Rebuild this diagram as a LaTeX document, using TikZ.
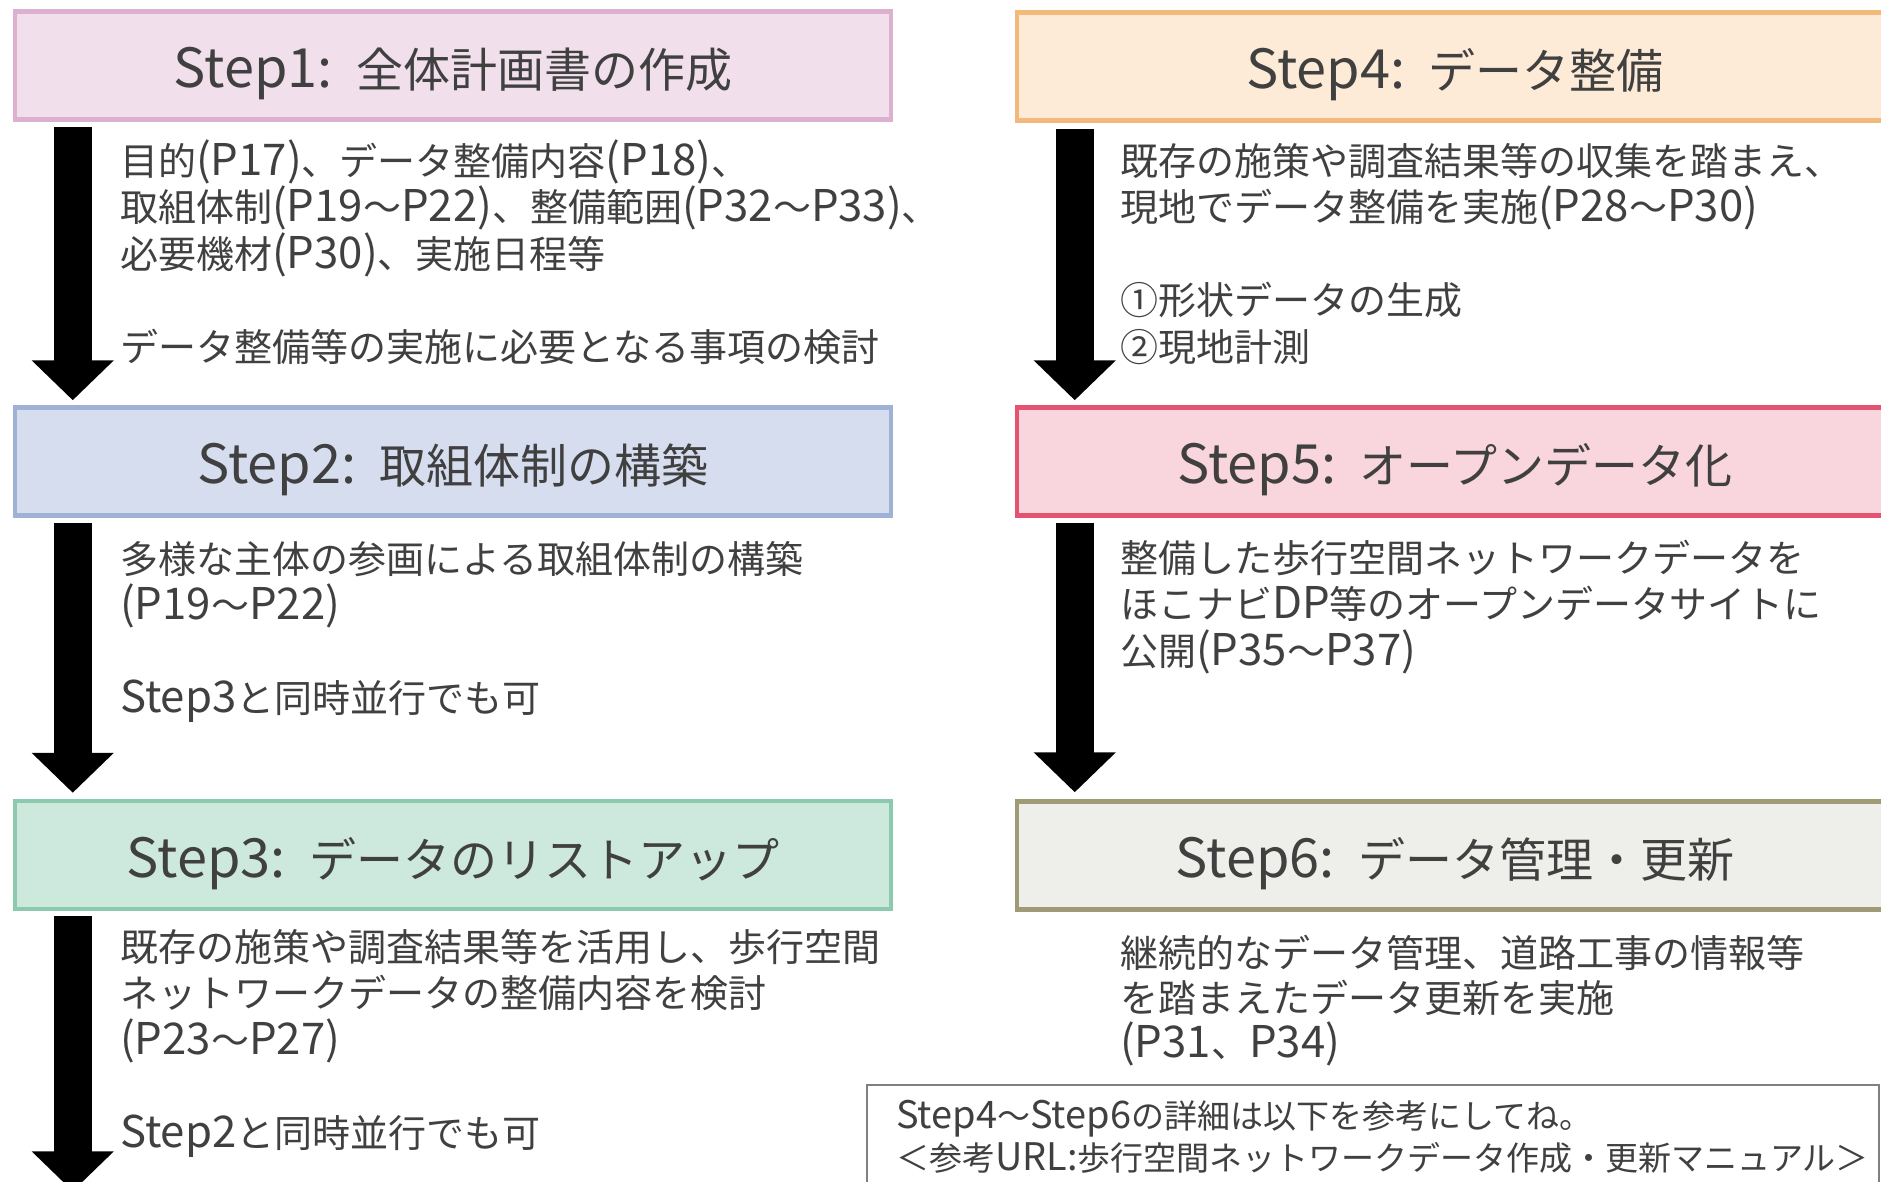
\documentclass[tikz,border=0pt]{standalone}
\usepackage{fontspec}
\setmainfont{Noto Sans CJK JP}
\newfontfamily\latf[Scale=1.15]{Noto Sans CJK JP}
\newcommand\latn[1]{{\latf #1}}
\usetikzlibrary{arrows.meta,calc}
\definecolor{txt}{HTML}{404040}
\definecolor{fA}{HTML}{F1E0EB}\definecolor{dA}{HTML}{DDB0D0}
\definecolor{fB}{HTML}{D6DDEE}\definecolor{dB}{HTML}{A0B1D6}
\definecolor{fC}{HTML}{CDE8DC}\definecolor{dC}{HTML}{8CCAB0}
\definecolor{fD}{HTML}{FDEBD7}\definecolor{dD}{HTML}{F3B97B}
\definecolor{fE}{HTML}{F9D5DD}\definecolor{dE}{HTML}{E45370}
\definecolor{fF}{HTML}{EEEFEA}\definecolor{dF}{HTML}{9F9B77}
\definecolor{notegray}{HTML}{808080}
\begin{document}
\begin{tikzpicture}[x=1pt,y=-1pt,
  box/.style={draw, line width=4.5pt, minimum width=876pt, minimum height=108pt, inner sep=0pt},
  ttl/.style={text=txt, font=\fontsize{47}{56}\selectfont, anchor=base, inner sep=0pt},
  body/.style={text=txt, font=\fontsize{38}{46.5}\selectfont, align=left, anchor=base west, inner sep=0pt},
  notetext/.style={text=txt, font=\fontsize{33}{42}\selectfont, align=left, anchor=base west, inner sep=0pt},
  bigarrow/.style={line width=38pt, -{Triangle[width=80pt,length=40pt]}}
]
\path[use as bounding box] (0,0) rectangle (1881,1182);
\clip (0,0) rectangle (1881,1182);
\fill[white] (0,0) rectangle (1881,1182);

% boxes
\node[box, draw=dA, fill=fA] (s1) at (453,65.5) {};
\node[box, draw=dB, fill=fB] (s2) at (453,461.5) {};
\node[box, draw=dC, fill=fC] (s3) at (453,855) {};
\node[box, draw=dD, fill=fD] (s4) at (1455,66.5) {};
\node[box, draw=dE, fill=fE] (s5) at (1455,461.5) {};
\node[box, draw=dF, fill=fF] (s6) at (1455,855.5) {};

% titles
\node[ttl] (t1) at ([yshift=-22pt]s1.center) {\latn{Step1:}\hspace{.5em}全体計画書の作成};
\node[ttl] (t2) at ([yshift=-22pt]s2.center) {\latn{Step2:}\hspace{.5em}取組体制の構築};
\node[ttl] (t3) at ([yshift=-22pt]s3.center) {\latn{Step3:}\hspace{.5em}データのリストアップ};
\node[ttl] (t4) at ([yshift=-22pt]s4.center) {\latn{Step4:}\hspace{.5em}データ整備};
\node[ttl] (t5) at ([yshift=-22pt]s5.center) {\latn{Step5:}\hspace{.5em}オープンデータ化};
\node[ttl] (t6) at ([yshift=-22pt]s6.center) {\latn{Step6:}\hspace{.5em}データ管理・更新};

% arrows
\draw[bigarrow] ($(s1.south west)+(60,5)$) -- ($(s2.north west)+(60,-5)$);
\draw[bigarrow] ($(s2.south west)+(60,5)$) -- ($(s3.north west)+(60,-6)$);
\coordinate (a3e) at ($(s3.south west)+(60,280)$);
\draw[bigarrow] ($(s3.south west)+(60,5)$) -- (a3e);
\draw[bigarrow] ($(s4.south west)+(60,6)$) -- ($(s5.north west)+(60,-5)$);
\draw[bigarrow] ($(s5.south west)+(60,5)$) -- ($(s6.north west)+(60,-7)$);

% body texts (anchor = baseline of last line)
\node[body] (b1) at (120,361) {目的\latn{(P17)}、データ整備内容\latn{(P18)}、\\
取組体制\latn{(P19}～\latn{P22)}、整備範囲\latn{(P32}～\latn{P33)}、\\
必要機材\latn{(P30)}、実施日程等\\[46.5pt]
データ整備等の実施に必要となる事項の検討};
\node[body] (b2) at (120,712.5) {多様な主体の参画による取組体制の構築\\
\latn{(P19}～\latn{P22)}\\[46.5pt]
\latn{Step3}と同時並行でも可};
\node[body] (b3) at (120,1147) {既存の施策や調査結果等を活用し、歩行空間\\
ネットワークデータの整備内容を検討\\
\latn{(P23}～\latn{P27)}\\[46.5pt]
\latn{Step2}と同時並行でも可};
\node[body] (b4) at (1120,361) {既存の施策や調査結果等の収集を踏まえ、\\
現地でデータ整備を実施\latn{(P28}～\latn{P30)}\\[46.5pt]
①形状データの生成\\
②現地計測};
\node[body] (b5) at (1120,665) {整備した歩行空間ネットワークデータを\\
ほこナビ\latn{DP}等のオープンデータサイトに\\
公開\latn{(P35}～\latn{P37)}};
\node[body, font=\fontsize{38}{45.3}\selectfont] (b6) at (1120,1057.6) {継続的なデータ管理、道路工事の情報等\\
を踏まえたデータ更新を実施\\
\latn{(P31}、\latn{P34)}};

% note
\node[draw=notegray, line width=2pt, minimum width=1012pt, minimum height=130pt, anchor=north west, inner sep=0pt] (nb) at (866,1084) {};
\node[notetext] (nt) at (896,1170.5) {\latn{Step4}～\latn{Step6}の詳細は以下を参考にしてね。\\
＜参考\latn{URL:}歩行空間ネットワークデータ作成・更新マニュアル＞};
\end{tikzpicture}
\end{document}
